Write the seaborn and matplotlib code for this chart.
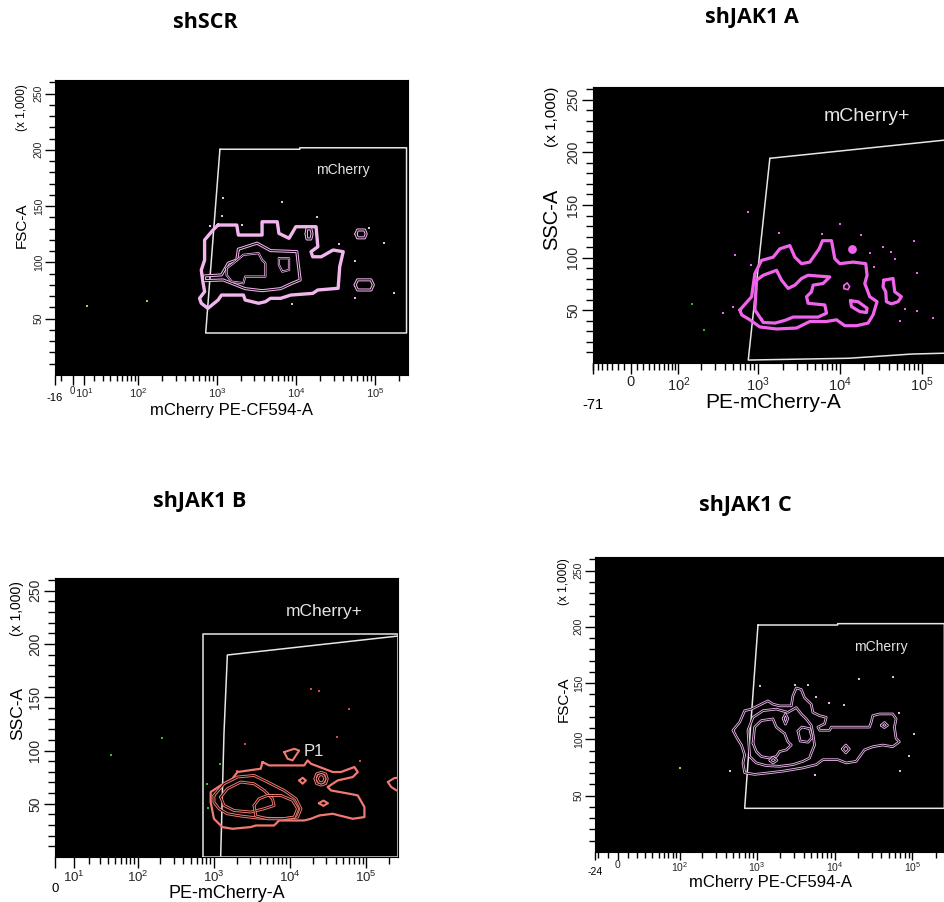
import numpy as np
import matplotlib
matplotlib.use('Agg')
import matplotlib.pyplot as plt
from matplotlib.ticker import FixedLocator, NullFormatter
import seaborn as sns
import pandas as pd

sns.set_style('white')
plt.rcParams['font.family'] = ['Liberation Sans', 'DejaVu Sans']
plt.rcParams['mathtext.default'] = 'regular'
plt.rcParams['text.color'] = 'black'

# ---------------- data (x as log10 of intensity, y in units of 1,000) ----------------

# shSCR
scr_outer_lx = [3.017, 3.253, 3.273, 3.573, 3.573, 3.765, 3.786, 3.914, 4.0, 4.256, 4.278, 4.192, 4.214,
                4.321, 4.471, 4.599, 4.555, 4.535, 4.278, 4.214, 3.936, 3.808, 3.679, 3.615, 3.529, 3.359,
                3.337, 3.060, 3.017, 2.888, 2.804, 2.782, 2.846, 2.824, 2.804, 2.846, 2.846, 2.953]
scr_outer_y = [133.2, 133.2, 124.3, 124.3, 136.1, 136.1, 125.8, 121.4, 131.7, 131.7, 113.9, 109.5, 105.0,
               105.0, 111.0, 109.5, 96.2, 77.0, 75.5, 72.5, 71.0, 68.1, 68.1, 65.1, 63.7, 66.6,
               71.0, 71.0, 66.6, 59.2, 63.7, 68.1, 74.0, 82.9, 93.2, 102.1, 119.9, 128.8]
scr_mid_lx = [3.273, 3.509, 3.679, 4.013, 4.029, 4.055, 3.936, 3.808, 3.573, 3.359, 3.209, 3.081, 2.846,
              2.846, 3.060, 3.145, 3.253]
scr_mid_y = [111.7, 117.1, 110.5, 109.6, 99.3, 84.4, 80.9, 76.7, 74.9, 76.7, 80.9, 84.4, 83.8,
             88.0, 88.9, 99.3, 102.2]
scr_inner_lx = [3.124, 3.209, 3.337, 3.529, 3.573, 3.615, 3.615, 3.359, 3.337, 3.188, 3.124]
scr_inner_y = [94.8, 99.3, 106.7, 108.2, 102.2, 99.3, 87.4, 87.4, 81.5, 82.9, 88.9]
scr_loop1_lx = [3.786, 3.914, 3.914, 3.829, 3.786]
scr_loop1_y = [103.7, 103.7, 93.3, 91.8, 97.8]
scr_loop2_lx = [4.76, 4.78, 4.87, 4.89, 4.87, 4.78]
scr_loop2_y = [125.3, 128.8, 128.8, 125.3, 121.8, 121.8]
scr_loop3_lx = [4.75, 4.78, 4.95, 4.98, 4.95, 4.78]
scr_loop3_y = [80.0, 84.5, 84.5, 80.0, 75.5, 75.5]
scr_loop4_lx = [4.13, 4.14, 4.19, 4.205, 4.19, 4.14]
scr_loop4_y = [125.3, 129.8, 129.8, 125.3, 120.8, 120.8]
scr_gate_lx = [3.04, 4.05, 4.05, 5.40, 5.40, 2.86]
scr_gate_y = [200.5, 200.5, 201.8, 201.8, 37.3, 37.3]
scr_green_lx = [1.11, 2.11]
scr_green_y = [61.6, 65.8]
scr_dots_lx = [3.073, 3.83, 3.06, 4.27, 2.91, 3.32, 4.55, 5.11, 4.75, 4.75, 5.24, 3.95, 4.92]
scr_dots_y = [157.1, 154.0, 141.6, 140.7, 132.4, 133.1, 116.4, 117.1, 101.3, 68.7, 73.1, 62.8, 130.4]

# shJAK1 A
ja_outer_lx = [2.780, 2.923, 2.963, 3.045, 3.187, 3.268, 3.390, 3.451, 3.533, 3.634, 3.748, 3.789, 3.899,
               3.939, 4.0, 4.162, 4.317, 4.333, 4.305, 4.366, 4.455, 4.406, 4.345, 4.204, 4.061, 3.960,
               3.838, 3.634, 3.472, 3.228, 3.024, 2.902, 2.801]
ja_outer_y = [50.4, 62.9, 84.9, 97.4, 100.5, 108.4, 111.5, 100.5, 94.3, 95.8, 108.4, 116.1, 116.1,
              99.0, 94.3, 95.8, 94.3, 83.3, 75.5, 62.9, 58.2, 45.7, 37.9, 35.4, 35.4, 41.0,
              39.4, 39.4, 33.2, 32.3, 34.2, 41.0, 45.7]
ja_inner_lx = [3.045, 2.963, 2.984, 3.065, 3.228, 3.289, 3.370, 3.451, 3.533, 3.613, 3.878, 3.796, 3.674,
               3.655, 3.594, 3.613, 3.817, 3.838, 3.735, 3.430, 3.329, 3.207, 3.065]
ja_inner_y = [41.0, 50.4, 78.6, 83.3, 88.0, 78.6, 70.8, 73.9, 80.2, 83.3, 81.7, 75.5, 73.9,
              67.6, 62.9, 56.7, 55.1, 47.3, 43.6, 43.6, 40.4, 37.9, 38.5]
ja_oval_lx = [4.130, 4.223, 4.333, 4.326, 4.244, 4.143]
ja_oval_y = [59.1, 58.2, 52.0, 47.9, 48.8, 53.5]
ja_loop_lx = [4.05, 4.09, 4.12, 4.10, 4.05]
ja_loop_y = [73.6, 76.1, 72.6, 69.6, 70.6]
ja_eight_lx = [4.537, 4.650, 4.671, 4.752, 4.711, 4.630, 4.569, 4.561, 4.528]
ja_eight_y = [78.6, 80.2, 67.6, 62.9, 58.2, 56.1, 58.2, 67.6, 72.3]
ja_blob_lx = [4.152]
ja_blob_y = [108.6]
ja_gate_lx = [3.146, 5.418, 5.418, 4.88, 4.11, 2.882]
ja_gate_y = [194.3, 212.7, 9.6, 8.5, 4.5, 2.8]
ja_green_lx = [2.18, 2.33]
ja_green_y = [55.8, 31.6]
ja_dots_lx = [2.874, 3.260, 2.720, 2.915, 2.577, 2.699, 3.777, 4.0, 4.256, 4.366, 4.622, 4.671, 4.906,
              4.948, 4.793, 4.943, 5.138, 4.732, 4.415, 4.528]
ja_dots_y = [143.7, 123.4, 102.7, 92.7, 47.9, 53.0, 122.4, 131.8, 121.8, 104.2, 105.8, 99.0, 115.5,
             85.8, 51.1, 49.8, 42.6, 39.4, 91.1, 109.9]

# shJAK1 B
jb_outer_lx = [3.641, 3.728, 4.188, 4.233, 4.276, 4.562, 4.671, 4.846, 4.891, 4.825, 4.628, 4.496, 4.539,
               4.780, 4.891, 4.978, 4.978, 4.825, 4.649, 4.562, 4.386, 4.276, 4.188, 3.859, 3.793, 3.553,
               3.487, 3.246, 3.114, 3.004, 2.961, 2.961, 3.092, 3.246, 3.312, 3.618]
jb_outer_y = [89.2, 86.0, 86.0, 90.7, 87.6, 79.8, 79.8, 84.5, 79.8, 75.1, 71.9, 65.7, 62.5,
              59.4, 57.8, 46.9, 37.5, 35.9, 39.0, 40.6, 39.0, 35.9, 34.3, 34.3, 29.6, 29.6,
              28.1, 26.5, 28.1, 35.9, 51.6, 61.0, 67.2, 73.5, 79.8, 82.9]
jb_left_lx = [3.004, 3.136, 3.312, 3.530, 3.707, 3.925, 4.079, 4.145, 4.101, 3.925, 3.575, 3.355, 3.180,
              3.070, 3.004]
jb_left_y = [57.8, 68.8, 75.1, 76.6, 70.4, 62.5, 54.7, 45.3, 37.5, 35.9, 36.6, 38.5, 40.6, 45.3, 51.6]
jb_core_lx = [3.092, 3.180, 3.355, 3.530, 3.662, 3.772, 3.793, 3.662, 3.487, 3.267, 3.136]
jb_core_y = [56.3, 64.1, 70.4, 68.8, 62.5, 54.7, 48.4, 45.3, 42.2, 43.7, 48.4]
jb_right_lx = [3.530, 3.596, 3.707, 3.882, 4.036, 4.101, 4.057, 3.904, 3.707, 3.553]
jb_right_y = [48.4, 54.7, 57.8, 57.8, 53.1, 45.3, 37.5, 35.9, 35.9, 38.5]
jb_p1_lx = [3.925, 4.057, 4.122, 4.079, 4.036, 3.970]
jb_p1_y = [98.5, 101.6, 100.0, 95.4, 90.7, 92.3]
jb_diam_lx = [4.122, 4.167, 4.211, 4.167]
jb_diam_y = [71.9, 74.4, 71.9, 68.8]
jb_ring_lx = [4.33, 4.35, 4.41, 4.47, 4.49, 4.47, 4.41, 4.35]
jb_ring_y = [73.5, 78.0, 79.5, 78.0, 73.5, 69.0, 67.5, 69.0]
jb_ring2_lx = [4.36, 4.38, 4.41, 4.44, 4.46, 4.44, 4.41, 4.38]
jb_ring2_y = [73.5, 76.5, 77.5, 76.5, 73.5, 70.5, 69.5, 70.5]
jb_small_lx = [4.38, 4.44, 4.50, 4.44]
jb_small_y = [50.5, 53.0, 50.5, 48.0]
jb_edge_lx = [5.285, 5.37, 5.5, 5.5, 5.40, 5.33]
jb_edge_y = [70.4, 74.1, 75.0, 61.0, 62.5, 65.7]
jb_rect_lx = [2.864, 2.864, 5.418, 5.418]
jb_rect_y = [0.0, 209.1, 209.1, 0.0]
jb_gate_lx = [3.092, 3.136, 3.180, 5.418]
jb_gate_y = [0.0, 116.4, 189.7, 207.5]
jb_green_lx = [1.645, 2.325, 3.083, 2.908, 2.925]
jb_green_y = [96.0, 111.6, 87.5, 68.7, 45.9]
jb_dots_lx = [3.412, 4.276, 4.378, 4.780, 4.618, 4.921, 3.312]
jb_dots_y = [106.3, 157.6, 156.3, 138.9, 113.1, 90.3, 80.3]

# shJAK1 C
jc_outer_lx = [2.696, 2.782, 2.846, 2.932, 3.060, 3.145, 3.209, 3.295, 3.445, 3.465, 3.509, 3.573, 3.615,
               3.701, 3.722, 3.808, 3.894, 3.872, 3.786, 3.808, 3.936, 3.958, 4.449, 4.471, 4.491, 4.577,
               4.747, 4.791, 4.769, 4.791, 4.833, 4.747, 4.619, 4.491, 4.385, 4.278, 4.15, 4.042, 3.85,
               3.765, 3.594, 3.337, 3.167, 2.974, 2.846, 2.824, 2.846, 2.804, 2.740]
jc_outer_y = [108.1, 115.3, 125.5, 126.9, 131.3, 134.2, 131.3, 129.8, 129.8, 138.5, 145.7, 144.3, 137.0,
              131.3, 124.0, 121.1, 119.6, 113.9, 110.9, 108.1, 108.1, 110.9, 110.9, 115.3, 121.1, 122.6,
              122.6, 118.2, 110.9, 100.8, 97.9, 93.5, 95.0, 93.5, 90.7, 80.5, 79.1, 82.0, 82.0,
              77.6, 74.7, 71.8, 70.4, 68.9, 70.4, 79.1, 86.3, 95.0, 102.2]
jc_mid_lx = [2.910, 2.888, 2.953, 3.081, 3.253, 3.401, 3.509, 3.573, 3.637, 3.701, 3.722, 3.744, 3.701,
             3.679, 3.594, 3.465, 3.295, 3.124, 2.996]
jc_mid_y = [84.8, 108.1, 119.6, 125.5, 126.9, 124.0, 128.3, 122.6, 118.2, 112.4, 105.2, 95.0, 87.8,
            83.4, 80.5, 77.6, 76.1, 76.7, 79.1]
jc_inner_lx = [2.953, 2.974, 3.060, 3.209, 3.253, 3.359, 3.401, 3.445, 3.381, 3.295, 3.253, 3.167, 3.060, 2.996]
jc_inner_y = [96.5, 110.9, 116.7, 118.2, 110.9, 105.2, 97.9, 95.0, 90.7, 89.2, 84.8, 83.4, 84.8, 89.2]
jc_loopa_lx = [3.53, 3.58, 3.68, 3.71, 3.66, 3.56]
jc_loopa_y = [107.5, 111.0, 109.5, 101.5, 97.5, 98.5]
jc_loopb_lx = [3.34, 3.37, 3.40, 3.37]
jc_loopb_y = [118.5, 122.5, 118.5, 113.5]
jc_loopc_lx = [4.10, 4.145, 4.19, 4.145]
jc_loopc_y = [91.5, 95.0, 91.5, 88.0]
jc_loopd_lx = [4.60, 4.64, 4.68, 4.64]
jc_loopd_y = [112.5, 115.0, 112.5, 110.5]
jc_loope_lx = [3.17, 3.21, 3.26, 3.21]
jc_loope_y = [81.5, 84.0, 81.5, 79.0]
jc_gate_lx = [3.017, 4.04, 4.04, 5.41, 5.41, 2.846]
jc_gate_y = [201.6, 201.6, 202.8, 202.8, 38.8, 38.8]
jc_green_lx = [2.0]
jc_green_y = [74.3]
jc_dots_lx = [2.654, 3.038, 3.487, 3.658, 3.765, 3.927, 4.119, 4.308, 4.756, 4.824, 5.026, 4.953, 4.842, 3.744]
jc_dots_y = [71.8, 147.2, 148.7, 148.1, 137.6, 132.1, 130.7, 153.6, 155.3, 123.4, 104.6, 85.4, 71.8, 68.0]

# ---------------- figure ----------------
W, H = 945, 902
fig = plt.figure(figsize=(W / 100, H / 100), dpi=100)


def fx(x, y):
    return x / W, 1 - y / H


def make_panel(box, w, xmin, min_label, xticks, xlabels, xminor, tick_fs, ytick_fs, big, min_off):
    x0, y0, x1, y1 = box
    ax = fig.add_axes([x0 / W, 1 - y1 / H, (x1 - x0) / W, (y1 - y0) / H])
    ax.set_facecolor('black')
    ax.set_xscale('function', functions=(lambda v: np.arcsinh(v / w) / np.log(10),
                                         lambda f: w * np.sinh(f * np.log(10))))
    ax.set_xlim(xmin, 262144)
    ax.set_ylim(0, 262)
    ax.set_xticks([xmin] + xticks, [''] + xlabels)
    ax.xaxis.set_minor_locator(FixedLocator(xminor))
    ax.xaxis.set_minor_formatter(NullFormatter())
    ax.set_yticks([50, 100, 150, 200, 250])
    ax.yaxis.set_minor_locator(FixedLocator([v for v in range(10, 262, 10) if v % 50]))
    for lab in ax.get_yticklabels():
        lab.set_rotation(90)
        lab.set_va('center')
    maj = 8 if big else 7
    ax.tick_params(which='both', bottom=True, left=True, top=False, right=False,
                   direction='out', width=1.0, color='black')
    ax.tick_params(which='major', length=maj, pad=1)
    ax.tick_params(which='minor', length=maj * 0.6)
    ax.tick_params(axis='x', labelsize=tick_fs)
    ax.tick_params(axis='y', labelsize=ytick_fs)
    for s in ax.spines.values():
        s.set_color('black')
        s.set_linewidth(0.8)
    ax.annotate(min_label, xy=(xmin, 0), xycoords=('data', 'axes fraction'),
                xytext=(0, -min_off), textcoords='offset points',
                ha='center', va='top', fontsize=tick_fs, annotation_clip=False)
    return ax


def loop(ax, lx, y, color, lw, double=False):
    xs = 10 ** np.array(lx + lx[:1])
    ys = np.array(y + y[:1])
    ax.plot(xs, ys, color=color, lw=lw, solid_joinstyle='round')
    if double:
        ax.plot(xs, ys, color='black', lw=lw * 0.33, solid_joinstyle='round')


def gate(ax, lx, y, closed=True):
    lx2 = lx + lx[:1] if closed else lx
    y2 = y + y[:1] if closed else y
    ax.plot(10 ** np.array(lx2), y2, color='#e6e6e6', lw=1.1)


def dots(ax, lx, y, color, s=3.5, marker='s'):
    df = pd.DataFrame({'x': 10 ** np.array(lx), 'y': y})
    sns.scatterplot(data=df, x='x', y='y', ax=ax, color=color, s=s, marker=marker,
                    linewidth=0, legend=False)
    ax.set_xlabel('')
    ax.set_ylabel('')


dec = ['$10^{%d}$' % e for e in (1, 2, 3, 4, 5)]
log_minor = [m * 10 ** e for e in range(1, 6) for m in range(2, 10) if m * 10 ** e < 262144]

# --- shSCR ---
pink = '#f2b6ee'
ax1 = make_panel((55, 80, 408, 375), 30, -16, '-16', [0, 10, 100, 1e3, 1e4, 1e5],
                 ['0', '$10^{1}$'] + dec[1:], [-10] + log_minor, 8, 7.5, False, 13)
gate(ax1, scr_gate_lx, scr_gate_y)
dots(ax1, scr_green_lx, scr_green_y, '#b8d020')
dots(ax1, scr_dots_lx, scr_dots_y, pink)
loop(ax1, scr_outer_lx, scr_outer_y, pink, 2.4)
loop(ax1, scr_mid_lx, scr_mid_y, pink, 2.2, True)
loop(ax1, scr_inner_lx, scr_inner_y, pink, 1.6, True)
loop(ax1, scr_loop1_lx, scr_loop1_y, pink, 1.6, True)
for a, b in [(scr_loop2_lx, scr_loop2_y), (scr_loop3_lx, scr_loop3_y), (scr_loop4_lx, scr_loop4_y)]:
    loop(ax1, a, b, pink, 2.2, True)
ax1.text(10 ** 4.60, 182, 'mCherry', color='#e6e6e6', fontsize=10, ha='center', va='center')
lab0 = ax1.get_xticklabels()[1]
lab0.set_fontsize(7)

# --- shJAK1 A ---
magenta = '#f064ec'
ax2 = make_panel((593, 87, 956, 363), 56, -71, '-71', [0, 100, 1e3, 1e4, 1e5],
                 ['0'] + dec[1:], list(range(-70, 0, 10)) + list(range(10, 100, 10)) + log_minor[8:],
                 10.5, 10, True, 25)
gate(ax2, ja_gate_lx, ja_gate_y)
dots(ax2, ja_green_lx, ja_green_y, '#20c020')
dots(ax2, ja_dots_lx, ja_dots_y, magenta)
dots(ax2, ja_blob_lx, ja_blob_y, magenta, s=40, marker='o')
loop(ax2, ja_outer_lx, ja_outer_y, magenta, 2.3)
loop(ax2, ja_inner_lx, ja_inner_y, magenta, 2.3)
loop(ax2, ja_oval_lx, ja_oval_y, magenta, 2.3)
loop(ax2, ja_loop_lx, ja_loop_y, magenta, 1.2)
loop(ax2, ja_eight_lx, ja_eight_y, magenta, 2.3)
ax2.text(10 ** 4.326, 233.7, 'mCherry+', color='#e6e6e6', fontsize=14, ha='center', va='center')

# --- shJAK1 B ---
salmon = '#f07a72'
ax3 = make_panel((55, 578, 398, 857), 16.6, 0, '0', [10, 100, 1e3, 1e4, 1e5],
                 dec, log_minor, 9.5, 10, True, 19)
gate(ax3, jb_rect_lx, jb_rect_y)
gate(ax3, jb_gate_lx, jb_gate_y, closed=False)
dots(ax3, jb_green_lx, jb_green_y, '#30c030')
dots(ax3, jb_dots_lx, jb_dots_y, '#d84848')
loop(ax3, jb_outer_lx, jb_outer_y, salmon, 1.6)
for a, b in [(jb_left_lx, jb_left_y), (jb_core_lx, jb_core_y), (jb_right_lx, jb_right_y),
             (jb_ring_lx, jb_ring_y), (jb_ring2_lx, jb_ring2_y)]:
    loop(ax3, a, b, salmon, 2.1, True)
for a, b in [(jb_p1_lx, jb_p1_y), (jb_diam_lx, jb_diam_y), (jb_small_lx, jb_small_y), (jb_edge_lx, jb_edge_y)]:
    loop(ax3, a, b, salmon, 1.5)
ax3.text(10 ** 4.451, 230.3, 'mCherry+', color='#e6e6e6', fontsize=12.5, ha='center', va='center')
ax3.text(10 ** 4.32, 98.9, 'P1', color='#e6e6e6', fontsize=12, ha='center', va='center')

# --- shJAK1 C ---
lilac = '#eab6ea'
ax4 = make_panel((595, 557, 945, 852), 33, -24, '-24', [0, 100, 1e3, 1e4, 1e5],
                 ['0'] + dec[1:], [-20, -10] + list(range(10, 100, 10)) + log_minor[8:], 7.5, 7.5, False, 11)
ax4.tick_params(axis='x', which='major', length=6, pad=0)
ax4.tick_params(axis='x', which='minor', length=4)
gate(ax4, jc_gate_lx, jc_gate_y)
dots(ax4, jc_green_lx, jc_green_y, '#b8c030')
dots(ax4, jc_dots_lx, jc_dots_y, lilac)
for a, b in [(jc_outer_lx, jc_outer_y), (jc_mid_lx, jc_mid_y), (jc_inner_lx, jc_inner_y),
             (jc_loopa_lx, jc_loopa_y), (jc_loopb_lx, jc_loopb_y), (jc_loopc_lx, jc_loopc_y),
             (jc_loopd_lx, jc_loopd_y), (jc_loope_lx, jc_loope_y)]:
    loop(ax4, a, b, lilac, 1.9, True)
ax4.text(10 ** 4.6, 182.3, 'mCherry', color='#e6e6e6', fontsize=10, ha='center', va='center')

# ---------------- titles and axis labels ----------------
for t, (x, y) in [('shSCR', (205, 22)), ('shJAK1 A', (752, 17)),
                  ('shJAK1 B', (200, 501)), ('shJAK1 C', (745, 506))]:
    fig.text(*fx(x, y), t, fontsize=15.5, fontweight='bold', family=['Open Sans', 'DejaVu Sans'],
             ha='center', va='center')

labels = [
    ('mCherry PE-CF594-A', 232, 411, 12, 0),
    ('FSC-A', 22, 225, 11, 90),
    ('(x 1,000)', 22, 108, 8.5, 90),
    ('PE-mCherry-A', 773, 403, 15, 0),
    ('SSC-A', 552, 219, 14.5, 90),
    ('(x 1,000)', 552, 117, 11, 90),
    ('PE-mCherry-A', 227, 894, 13, 0),
    ('SSC-A', 18, 713, 12.5, 90),
    ('(x 1,000)', 17, 609, 10, 90),
    ('mCherry PE-CF594-A', 771, 882, 12, 0),
    ('FSC-A', 564, 699, 11, 90),
    ('(x 1,000)', 564, 582, 8.5, 90),
]
for txt, x, y, fs, rot in labels:
    fig.text(*fx(x, y), txt, fontsize=fs, rotation=rot, ha='center', va='center')

fig.savefig('out.png', dpi=100, facecolor='white')
